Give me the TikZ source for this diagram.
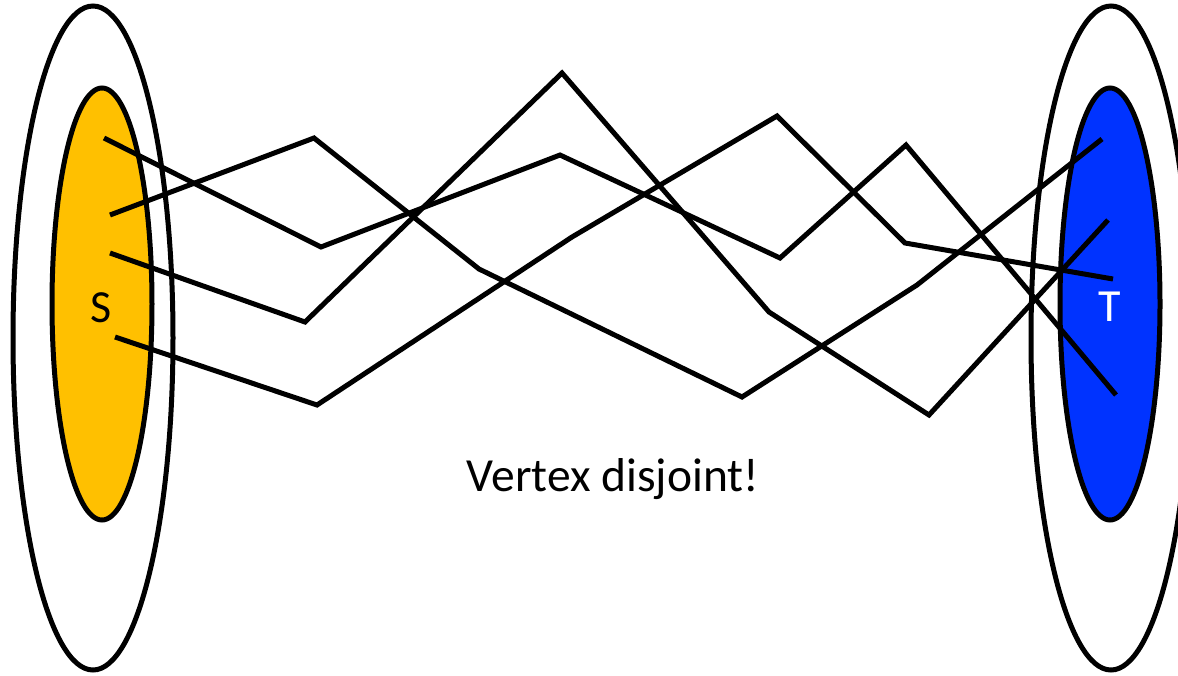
\documentclass[tikz,border=0pt]{standalone}
\usepackage{fontspec}
\setmainfont{Carlito}
\usetikzlibrary{shapes.geometric}
\definecolor{sgold}{RGB}{255,192,0}
\definecolor{tblue}{RGB}{0,51,255}

\begin{document}
\begin{tikzpicture}[
  x=1pt, y=-1pt,
  ringnode/.style={ellipse, draw=black, line width=5pt, inner sep=0pt, minimum width=160pt, minimum height=664pt},
  setnode/.style={ellipse, draw=black, line width=5pt, inner sep=0pt, minimum width=100pt, minimum height=432pt},
  lbl/.style={font=\fontsize{46}{50}\selectfont, anchor=base},
  route/.style={line width=5pt, color=black}
]
  \useasboundingbox (0,0) rectangle (1178,675);

  % Conjuntos
  \node[ringnode] (souter) at (93,338) {};
  \node[setnode, fill=sgold] (sset) at (102,304) {};
  \node[ringnode] (touter) at (1111,338) {};
  \node[setnode, fill=tblue] (tset) at (1110,304) {};

  \node[lbl] (slabel) at (101,322) {S};
  \node[lbl, text=white] (tlabel) at (1110,321) {T};
  \node[lbl, font=\fontsize{47.5}{52}\selectfont] (note) at (613,491) {Vertex disjoint!};

  % Camino 1
  \coordinate (a0) at (104,138);
  \coordinate (a1) at (321,247);
  \coordinate (a2) at (560,155);
  \coordinate (a3) at (780,258);
  \coordinate (a4) at (906,145);
  \coordinate (a5) at (1116,395);

  % Camino 2
  \coordinate (b0) at (110,215);
  \coordinate (b1) at (314,138);
  \coordinate (b2) at (479,269);
  \coordinate (b3) at (742,397);
  \coordinate (b4) at (917,285);
  \coordinate (b5) at (1102,139);

  % Camino 3
  \coordinate (c0) at (110,253);
  \coordinate (c1) at (305,322);
  \coordinate (c2) at (562,73);
  \coordinate (c3) at (769,312);
  \coordinate (c4) at (929,415);
  \coordinate (c5) at (1108,220);

  % Camino 4
  \coordinate (d0) at (115,337);
  \coordinate (d1) at (317,405);
  \coordinate (d2) at (572,237);
  \coordinate (d3) at (777,116);
  \coordinate (d4) at (905,243);
  \coordinate (d5) at (1113,279);

  \draw[route] (a0) -- (a1) -- (a2) -- (a3) -- (a4) -- (a5);
  \draw[route] (b0) -- (b1) -- (b2) -- (b3) -- (b4) -- (b5);
  \draw[route] (c0) -- (c1) -- (c2) -- (c3) -- (c4) -- (c5);
  \draw[route] (d0) -- (d1) -- (d2) -- (d3) -- (d4) -- (d5);

\end{tikzpicture}
\end{document}
